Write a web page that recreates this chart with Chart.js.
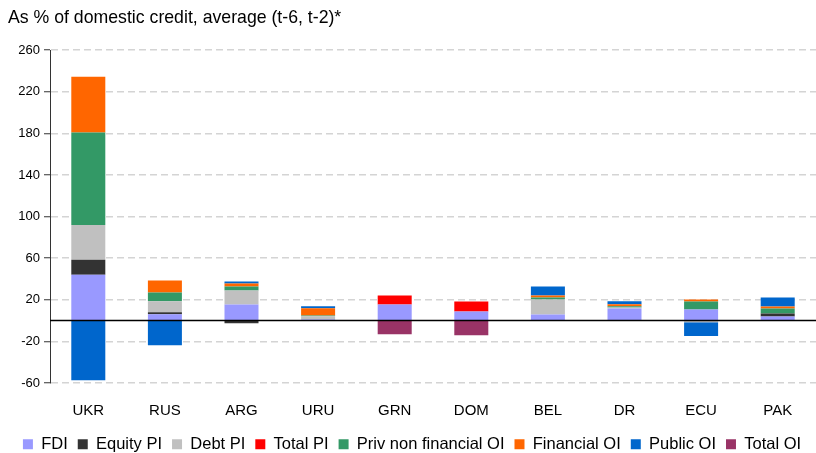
<!DOCTYPE html>
<html>
<head>
<meta charset="utf-8">
<script src="https://cdn.jsdelivr.net/npm/chart.js@4.4.1/dist/chart.umd.min.js"></script>
<style>
  html, body { margin: 0; padding: 0; background: #fff; }
  #wrap { position: relative; width: 816px; height: 453px; }
</style>
</head>
<body>
<div id="wrap"><canvas id="chart"></canvas></div>
<script>
const categories = ['UKR', 'RUS', 'ARG', 'URU', 'GRN', 'DOM', 'BEL', 'DR', 'ECU', 'PAK'];

const fdi          = [44,    6,    15.5, 1,    15.5, 8.8,  5.9,  11.7, 10.7, 4];
const equityPi     = [14.5,  2,    -2.5, null, null, null, null, null, null, 2.9];
const debtPi       = [33.5,  10.5, 13.4, 3.2,  null, null, 14.4, 1,    -1.5, null];
const totalPi      = [null,  null, null, null, 8.6,  9.6,  null, null, null, null];
const privNonFinOi = [89,    8.6,  3.8,  0.7,  null, null, 1.9,  1,    7.7,  4.8];
const financialOi  = [53.6,  11.5, 2.9,  7,    null, null, 1.9,  2,    1.9,  1.9];
const publicOi     = [-57.4, -23.7, 1.9, 1.8,  null, null, 8.6,  3,    -13.2, 8.6];
const totalOi      = [null,  null, null, null, -13.2, -14.2, null, null, null, null];

const yTicks = [-60, -20, 20, 60, 100, 140, 180, 220, 260];

const FONT = "'Liberation Sans', Arial, sans-serif";

const series = [
  { label: 'FDI', data: fdi, color: '#9999ff' },
  { label: 'Equity PI', data: equityPi, color: '#333333' },
  { label: 'Debt PI', data: debtPi, color: '#c0c0c0' },
  { label: 'Total PI', data: totalPi, color: '#ff0000' },
  { label: 'Priv non financial OI', data: privNonFinOi, color: '#339966' },
  { label: 'Financial OI', data: financialOi, color: '#ff6600' },
  { label: 'Public OI', data: publicOi, color: '#0066cc' },
  { label: 'Total OI', data: totalOi, color: '#993366' },
];

// solid black line at zero, drawn over the bars
const zeroLine = {
  id: 'zeroLine',
  afterDatasetsDraw(chart) {
    const { ctx, chartArea, scales } = chart;
    const y = scales.y.getPixelForValue(0);
    ctx.save();
    ctx.strokeStyle = '#000';
    ctx.lineWidth = 1.5;
    ctx.beginPath();
    ctx.moveTo(chartArea.left, y);
    ctx.lineTo(chartArea.right, y);
    ctx.stroke();
    ctx.restore();
  },
};

new Chart(document.getElementById('chart'), {
  type: 'bar',
  data: {
    labels: categories,
    datasets: series.map((s) => ({
      label: s.label,
      data: s.data,
      backgroundColor: s.color,
      borderWidth: 0,
      categoryPercentage: 1,
      barPercentage: 0.444,
    })),
  },
  options: {
    responsive: true,
    maintainAspectRatio: false,
    animation: false,
    layout: { padding: { left: 8, right: 0, top: 0, bottom: 0 } },
    scales: {
      x: {
        stacked: true,
        grid: { display: false },
        border: { display: false },
        ticks: { color: '#000', font: { family: FONT, size: 15 }, padding: 11 },
        afterFit: (scale) => {
          scale.height = 43;
        },
      },
      y: {
        stacked: true,
        min: -60,
        max: 260,
        afterBuildTicks: (scale) => {
          scale.ticks = yTicks.map((v) => ({ value: v }));
        },
        afterFit: (scale) => {
          scale.width = 42;
        },
        grid: {
          color: '#d4d4d4',
          lineWidth: 1.5,
          tickColor: '#333',
          tickLength: 6,
          tickWidth: 1,
          tickBorderDash: [],
        },
        border: { display: true, color: '#333', width: 1, dash: [7, 4] },
        ticks: { color: '#000', font: { family: FONT, size: 13 }, padding: 4 },
      },
    },
    plugins: {
      title: {
        display: true,
        text: 'As % of domestic credit, average (t-6, t-2)*',
        align: 'start',
        color: '#000',
        font: { family: FONT, size: 17.7, weight: 'normal' },
        padding: { top: 7, bottom: 22 },
      },
      legend: {
        position: 'bottom',
        maxHeight: 27,
        labels: {
          color: '#000',
          font: { family: FONT, size: 16.5 },
          boxWidth: 10,
          boxHeight: 10,
          padding: 10,
        },
      },
      tooltip: { enabled: false },
    },
  },
  plugins: [zeroLine],
});
</script>
</body>
</html>
